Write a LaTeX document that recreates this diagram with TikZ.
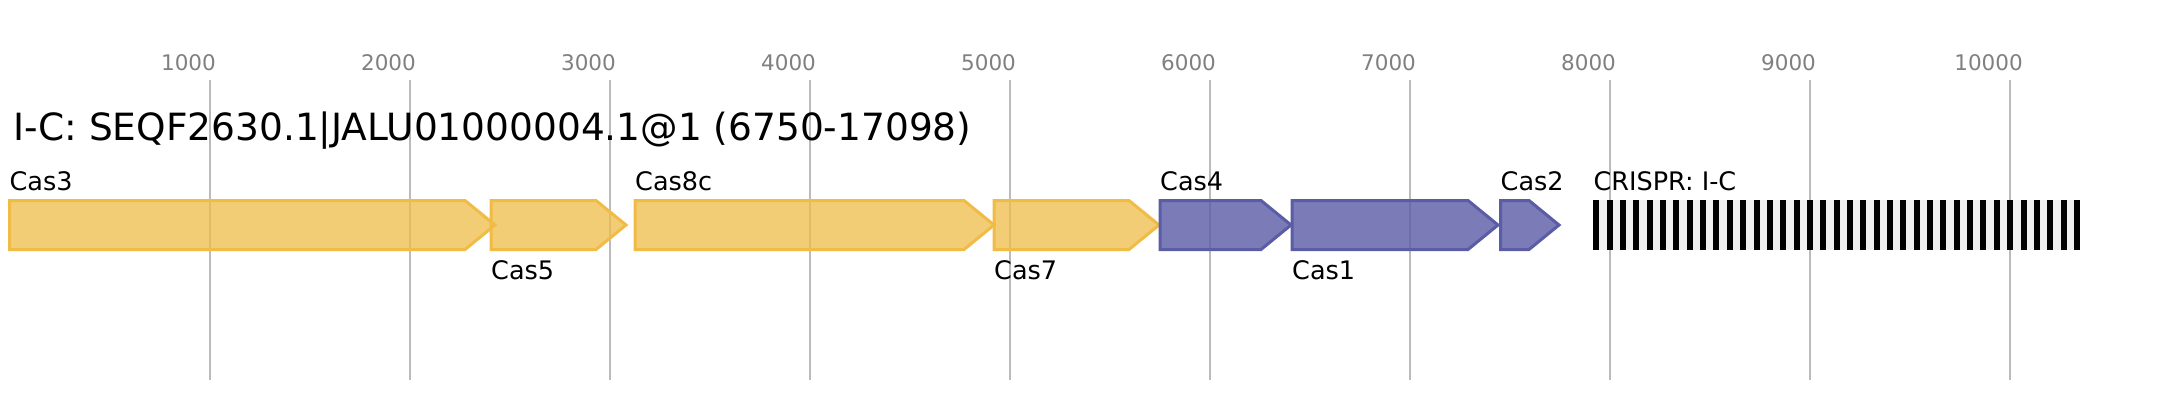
\documentclass[tikz,border=0pt]{standalone}
\usepackage{fontspec}
\setmainfont{DejaVu Sans}
\definecolor{cy}{RGB}{240,188,70}
\definecolor{cp}{RGB}{90,92,166}
\definecolor{gridc}{RGB}{187,187,187}
\definecolor{tickc}{RGB}{128,128,128}
\definecolor{crg}{RGB}{239,239,239}
\newcommand\genearrow[3]{%
  \path[#1] (#2,200.5) -- ({#3-30},200.5) -- (#3,225) -- ({#3-30},249.5) -- (#2,249.5) -- cycle;}
\begin{document}
\begin{tikzpicture}[x=1pt,y=-1pt,
  gridline/.style={draw=gridc, line width=2pt},
  ticklbl/.style={text=tickc, font=\fontsize{21.5}{24}\selectfont, anchor=base, inner sep=0pt},
  lbl/.style={font=\fontsize{25.5}{30}\selectfont, anchor=base west, inner sep=0pt},
  yel/.style={draw=cy, fill=cy, fill opacity=0.74, line width=3pt, line join=miter},
  pur/.style={draw=cp, fill=cp, fill opacity=0.8, line width=3pt, line join=miter},
]
\useasboundingbox[fill=white] (0,0) rectangle (2170,400);
% grid and ticks
\foreach \k in {1,...,10}{
  \draw[gridline] ({10+200*\k},80) -- ({10+200*\k},380);
  \node[ticklbl] (t\k) at ({10+200*\k-21.5},70) {\number\numexpr\k*1000\relax};
}
% title
\node[lbl, font=\fontsize{37.5}{44}\selectfont] (title) at (13.6,140) {I-C: SEQF2630.1|JALU01000004.1@1 (6750-17098)};
% genes
\genearrow{yel}{9.5}{495}
\genearrow{yel}{491}{626}
\genearrow{yel}{635}{994}
\genearrow{yel}{994}{1159}
\genearrow{pur}{1160}{1291}
\genearrow{pur}{1292}{1498}
\genearrow{pur}{1500.5}{1559}
% labels
\node[lbl] (lcas3) at (9.5,190) {Cas3};
\node[lbl] (lcas5) at (491,279) {Cas5};
\node[lbl] (lcas8c) at (635,190) {Cas8c};
\node[lbl] (lcas7) at (994,279) {Cas7};
\node[lbl] (lcas4) at (1160,190) {Cas4};
\node[lbl] (lcas1) at (1292,279) {Cas1};
\node[lbl] (lcas2) at (1500.5,190) {Cas2};
\node[lbl] (lcrispr) at (1593.3,190) {CRISPR: I-C};
% CRISPR array
\fill[crg] (1593.3,200) rectangle (2080,250);
\foreach \i in {0,...,36}{
  \fill[black] ({1593.3+\i*13.35},200) rectangle ++(6,50);
}
\end{tikzpicture}
\end{document}
